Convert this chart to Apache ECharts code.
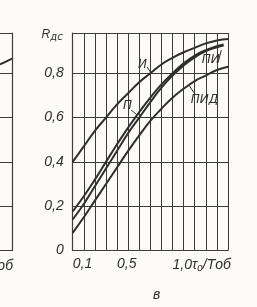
<!DOCTYPE html>
<html>
<head>
<meta charset="utf-8">
<script src="https://cdn.jsdelivr.net/npm/echarts@6/dist/echarts.min.js"></script>
<style>
html,body{margin:0;padding:0;background:#fcfbf8;}
#c{width:257px;height:307px;}
</style>
</head>
<body>
<div id="c"></div>
<script>
// x values (τo/Tоб)
const xI   = [0.1,0.2,0.3,0.4,0.5,0.6,0.7,0.8,0.9,1.0,1.1,1.2,1.3,1.4,1.5];
const yI   = [0.40,0.47,0.54,0.60,0.66,0.71,0.76,0.80,0.84,0.87,0.895,0.915,0.935,0.948,0.955];
const xP   = [0.1,0.2,0.3,0.4,0.5,0.6,0.7,0.8,0.9,1.0,1.1,1.2,1.3,1.4,1.46];
const yP   = [0.176,0.245,0.32,0.40,0.48,0.555,0.625,0.69,0.75,0.80,0.845,0.88,0.905,0.922,0.93];
const yPI  = [0.14,0.21,0.29,0.37,0.45,0.53,0.60,0.67,0.735,0.79,0.835,0.872,0.90,0.918,0.926];
const xPID = [0.1,0.2,0.3,0.4,0.5,0.6,0.7,0.8,0.9,1.0,1.1,1.2,1.3,1.4,1.5];
const yPID = [0.08,0.15,0.225,0.30,0.375,0.45,0.52,0.585,0.64,0.69,0.73,0.765,0.79,0.815,0.83];
// fragment of the neighbouring chart on the left (only its right edge is visible)
const xFrag = [1.29,1.345,1.4];
const yFrag = [0.84,0.853,0.866];

const xLabelValues = {1:'0,1', 5:'0,5', 10:'{n|1,0τ}{s|o}{n|/Tоб}'};
const yLabelValues = ['0','0,2','0,4','0,6','0,8'];

const ink = '#2e2e2e';
const gridInk = '#3c3c3c';
const font = 'Liberation Sans';

function pairs(xs, ys){ return xs.map((x,i)=>[x, ys[i]]); }

const labelStyle = {fontStyle:'italic', fontFamily:'DejaVu Sans', fontSize:12, color:ink};
function tag(text, coord){
  return {coord: coord, value: text, symbol:'circle', symbolSize:1,
    itemStyle:{color:'rgba(0,0,0,0)'},
    label:Object.assign({show:true, position:'inside', formatter:text}, labelStyle)};
}
function leader(a,b){ return [{coord:a},{coord:b}]; }
function curve(name, data, tagText, tagCoord, la, lb){
  return {
    type:'line', name:name, data:data, smooth:true, showSymbol:false,
    xAxisIndex:0, yAxisIndex:0,
    lineStyle:{color:ink, width:2}, itemStyle:{color:ink},
    markPoint:{silent:true, data:[tag(tagText, tagCoord)]},
    markLine:{silent:true, symbol:'none', label:{show:false},
      lineStyle:{color:ink, width:1, type:'solid'}, data:[leader(la, lb)]}
  };
}

const chart = echarts.init(document.getElementById('c'), null, {renderer:'canvas'});
chart.setOption({
  backgroundColor:'#fcfbf8',
  animation:false,
  title:{text:'в', left:148, top:283,
    textStyle:{fontStyle:'italic', fontFamily:font, fontSize:14, fontWeight:'normal', color:ink}},
  grid:[
    {left:72.7, width:155.3, top:33, height:217.5},
    {left:0, width:12, top:33, height:217.5}
  ],
  xAxis:[
    {type:'value', gridIndex:0, min:0.1, max:1.5, interval:0.1,
     axisLine:{show:true, lineStyle:{color:gridInk, width:1.2}},
     axisTick:{show:false},
     splitLine:{show:true, lineStyle:{color:gridInk, width:1}},
     axisLabel:{show:true, align:'left', margin:7, fontStyle:'italic', fontFamily:font, fontSize:14, color:ink,
       showMaxLabel:true,
       formatter:function(v){ const k=Math.round(v*10); return xLabelValues[k]||''; },
       rich:{n:{fontStyle:'italic', fontFamily:font, fontSize:14, color:ink},
             s:{fontStyle:'italic', fontFamily:font, fontSize:10, color:ink, padding:[6,0,0,0]}}}
    },
    {type:'value', gridIndex:1, min:1.29, max:1.4,
     axisLine:{show:true, lineStyle:{color:gridInk, width:1.2}},
     axisTick:{show:false}, splitLine:{show:false}, axisLabel:{show:false}}
  ],
  yAxis:[
    {type:'value', gridIndex:0, min:0, max:0.982, interval:0.2,
     name:'{R|R}{d|дс}', nameLocation:'end', nameGap:-2,
     nameTextStyle:{align:'right', verticalAlign:'middle', padding:[0,10,0,0],
       rich:{R:{fontStyle:'italic', fontFamily:font, fontSize:12, color:ink},
             d:{fontStyle:'italic', fontFamily:'DejaVu Sans', fontSize:10, color:ink, padding:[4,0,0,0]}}},
     axisLine:{show:true, lineStyle:{color:gridInk, width:1.2}},
     axisTick:{show:false},
     splitLine:{show:true, lineStyle:{color:gridInk, width:1}},
     axisLabel:{margin:9, fontStyle:'italic', fontFamily:font, fontSize:14, color:ink,
       formatter:function(v){ const k=Math.round(v*5); if(Math.abs(v*5-k)>1e-6) return ''; return yLabelValues[k]||''; }}
    },
    {type:'value', gridIndex:1, min:0, max:0.982, interval:0.2,
     axisLine:{show:false}, axisTick:{show:false}, axisLabel:{show:false},
     splitLine:{show:true, lineStyle:{color:gridInk, width:1}}},
    {type:'value', gridIndex:1, position:'right', min:0, max:0.982,
     axisLine:{show:true, lineStyle:{color:gridInk, width:1.2}}, axisTick:{show:false},
     axisLabel:{show:false}, splitLine:{show:false}}
  ],
  graphic:[
    {type:'text', right:244, top:259, style:{text:'Tоб', font:'italic 14px "Liberation Sans"', fill:ink}}
  ],
  series:[
    curve('И',   pairs(xI, yI),    'И',   [0.73,0.838], [0.772,0.828], [0.805,0.803]),
    curve('П',   pairs(xP, yP),    'П',   [0.595,0.652],[0.627,0.634], [0.68,0.612]),
    curve('ПИ',  pairs(xP, yPI),   'ПИ',  [1.345,0.862],[1.41,0.848],  [1.44,0.905]),
    curve('ПИД', pairs(xPID, yPID),'ПИД', [1.288,0.681],[1.206,0.703], [1.15,0.745]),
    {type:'line', data:pairs(xFrag, yFrag), smooth:true, showSymbol:false,
     xAxisIndex:1, yAxisIndex:1, lineStyle:{color:ink, width:2}}
  ]
});
</script>
</body>
</html>
